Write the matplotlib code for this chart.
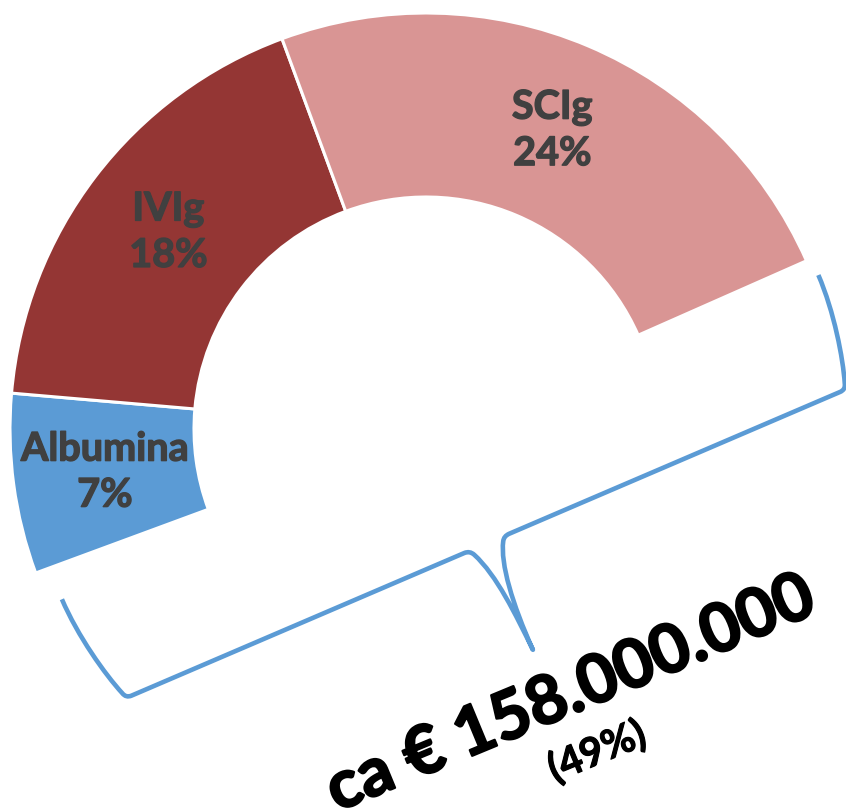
import numpy as np
import matplotlib
matplotlib.use("Agg")
import matplotlib.pyplot as plt
from matplotlib.path import Path
from matplotlib.patches import PathPatch
import matplotlib.patheffects as pe

# ---- data ----
categories = ["Albumina", "IVIg", "SCIg", ""]
shares = [7, 18, 24, 51]
colors = ["#5B9BD5", "#943634", "#D99594", "white"]
total_label = "ca € 158.000.000"
total_share = "(49%)"

W, H = 846, 809
fig = plt.figure(figsize=(W / 100, H / 100), dpi=100)
ax = fig.add_axes([0, 0, 1, 1])

cx, cy = 426, H - 429
R = 416
ring = 184

labels = [f"{c}\n{s}%" if c else "" for c, s in zip(categories, shares)]
wedges, texts = ax.pie(
    shares, labels=labels, colors=colors, startangle=200.25, counterclock=False,
    center=(cx, cy), radius=R, labeldistance=(R - ring / 2) / R,
    wedgeprops=dict(width=ring, edgecolor="white", linewidth=2.2),
)
wedges[-1].set_visible(False)
for t in texts:
    t.set_ha("center")
    t.set_va("center")
    t.set_fontfamily("Lato")
    t.set_fontweight("bold")
    t.set_fontsize(28.5)
    t.set_color("#404040")
    t.set_linespacing(1.3)
    t.set_path_effects([pe.withStroke(linewidth=1.0, foreground="#404040")])

ax.set_xlim(0, W)
ax.set_ylim(0, H)
ax.set_aspect("equal")
ax.axis("off")

# ---- curly brace (rotated) ----
theta = np.deg2rad(23.2)
u = np.array([np.cos(theta), np.sin(theta)])
v = np.array([-np.sin(theta), np.cos(theta)])
O = np.array([126, H - 698])
local = [
    ((-20, 116), Path.MOVETO),
    ((-20, 76), Path.CURVE4), ((-10, 30), Path.CURVE4), ((-1.5, 5.8), Path.CURVE4),
    ((0, 0), Path.CURVE3), ((6, 0), Path.CURVE3),
    ((368, 0), Path.LINETO),
    ((374, 0), Path.CURVE3), ((376.5, -5.5), Path.CURVE3),
    ((389, -33), Path.CURVE4), ((391, -76), Path.CURVE4), ((393, -116), Path.CURVE4),
    ((392, -66), Path.CURVE4), ((397, -24), Path.CURVE4), ((408.5, -4.5), Path.CURVE4),
    ((411, 0), Path.CURVE3), ((417, 0), Path.CURVE3),
    ((777, 0), Path.LINETO),
    ((783, 0), Path.CURVE3), ((784.5, 5.8), Path.CURVE3),
    ((793, 30), Path.CURVE4), ((803, 76), Path.CURVE4), ((803, 116), Path.CURVE4),
]
pts = np.array([O + s * u + t * v for (s, t), _ in local])
codes = [c for _, c in local]
ax.add_patch(PathPatch(Path(pts, codes), fill=False, edgecolor="#5B9BD5",
                       linewidth=3.3, capstyle="butt", joinstyle="round", zorder=5))

# ---- total annotation ----
ax.text(578, H - 712, total_label, rotation=22.5, rotation_mode="anchor",
        ha="center", va="baseline", fontfamily="Lato", fontweight="bold",
        fontsize=48.5, color="black",
        path_effects=[pe.withStroke(linewidth=1.6, foreground="black")])
ax.text(597, H - 752, total_share, rotation=22.5, rotation_mode="anchor",
        ha="center", va="center", fontfamily="Lato", fontweight="bold",
        fontsize=29, color="black",
        path_effects=[pe.withStroke(linewidth=0.8, foreground="black")])

fig.savefig("out.png", dpi=100)
